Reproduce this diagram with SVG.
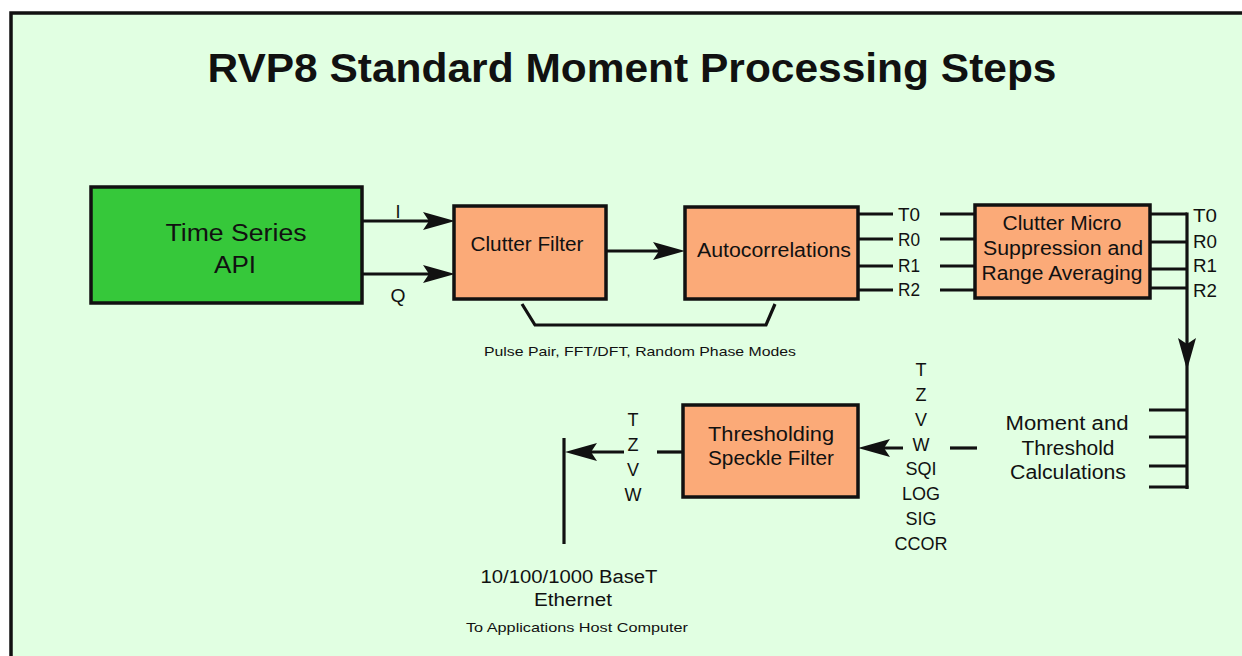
<svg xmlns="http://www.w3.org/2000/svg" width="1242" height="656" viewBox="0 0 1242 656">
<style>
  text { font-family: "Liberation Sans", Arial, Helvetica, sans-serif; fill: #111; }
  .t { font-size: 41px; font-weight: bold; }
  .m { font-size: 20px; }
  .b { font-size: 23px; }
  .s { font-size: 18px; }
  .xs { font-size: 13px; }
  .box { stroke: #111; stroke-width: 3.5; }
  .org { fill: #FBAA78; }
  .grn { fill: #36C83A; }
  .ln { stroke: #111; stroke-width: 3.2; fill: none; }
</style>
<defs>
  <marker id="ah" markerUnits="userSpaceOnUse" markerWidth="34" markerHeight="22" refX="24" refY="11" orient="auto">
    <path d="M0,2 L32,11 L0,20 L6,11 Z" fill="#111"/>
  </marker>
</defs>
<rect x="0" y="0" width="1242" height="656" fill="#fff"/>
<rect x="11" y="13" width="1260" height="670" fill="#E1FFE2" stroke="#111" stroke-width="3.5"/>

<text class="t" x="632" y="82" text-anchor="middle" textLength="849" lengthAdjust="spacingAndGlyphs">RVP8 Standard Moment Processing Steps</text>

<g id="connectors">
  <line class="ln" x1="362" y1="221" x2="447" y2="221" marker-end="url(#ah)"/>
  <line class="ln" x1="362" y1="274" x2="447" y2="274" marker-end="url(#ah)"/>
  <line class="ln" x1="606" y1="251" x2="677" y2="251" marker-end="url(#ah)"/>
  <path class="ln" d="M522,304 L535,325 L766,325 L775,304"/>
  <line class="ln" x1="858" y1="214" x2="893" y2="214"/>
  <line class="ln" x1="858" y1="239" x2="893" y2="239"/>
  <line class="ln" x1="858" y1="266" x2="893" y2="266"/>
  <line class="ln" x1="858" y1="290" x2="893" y2="290"/>
  <line class="ln" x1="940" y1="214" x2="975" y2="214"/>
  <line class="ln" x1="940" y1="239" x2="975" y2="239"/>
  <line class="ln" x1="940" y1="266" x2="975" y2="266"/>
  <line class="ln" x1="940" y1="290" x2="975" y2="290"/>
  <line class="ln" x1="1150" y1="214" x2="1187" y2="214"/>
  <line class="ln" x1="1150" y1="242" x2="1187" y2="242"/>
  <line class="ln" x1="1150" y1="269" x2="1187" y2="269"/>
  <line class="ln" x1="1150" y1="288" x2="1187" y2="288"/>
  <line class="ln" x1="1187" y1="212.5" x2="1187" y2="362" marker-end="url(#ah)"/>
  <line class="ln" x1="1187" y1="362" x2="1187" y2="489"/>
  <line class="ln" x1="1149" y1="410" x2="1187" y2="410"/>
  <line class="ln" x1="1149" y1="437" x2="1187" y2="437"/>
  <line class="ln" x1="1149" y1="466" x2="1187" y2="466"/>
  <line class="ln" x1="1149" y1="487" x2="1188.5" y2="487"/>
  <line class="ln" x1="950" y1="448" x2="977" y2="448"/>
  <line class="ln" x1="903" y1="448" x2="866" y2="448" marker-end="url(#ah)"/>
  <line class="ln" x1="683" y1="452" x2="657" y2="452"/>
  <line class="ln" x1="624" y1="452" x2="573" y2="452" marker-end="url(#ah)"/>
  <line class="ln" x1="564" y1="438" x2="564" y2="544"/>
</g>

<g id="time-series-api">
  <rect class="box grn" x="91" y="187" width="271" height="116"/>
  <text class="b" x="236" y="241" text-anchor="middle" textLength="141" lengthAdjust="spacingAndGlyphs">Time Series</text>
  <text class="b" x="235" y="273" text-anchor="middle" textLength="42" lengthAdjust="spacingAndGlyphs">API</text>
</g>
<text class="s" x="398" y="218" text-anchor="middle">I</text>
<text class="s" x="398" y="302" text-anchor="middle" textLength="15" lengthAdjust="spacingAndGlyphs">Q</text>

<g id="clutter-filter">
  <rect class="box org" x="454" y="206" width="152" height="93"/>
  <text class="m" x="527" y="251" text-anchor="middle" textLength="113" lengthAdjust="spacingAndGlyphs">Clutter Filter</text>
</g>

<g id="autocorrelations">
  <rect class="box org" x="685" y="207" width="173" height="92"/>
  <text class="m" x="774" y="257" text-anchor="middle" textLength="154" lengthAdjust="spacingAndGlyphs">Autocorrelations</text>
</g>
<text class="xs" x="640" y="356" text-anchor="middle" textLength="312" lengthAdjust="spacingAndGlyphs">Pulse Pair, FFT/DFT, Random Phase Modes</text>

<g id="ac-outputs">
  <text class="s" x="898" y="221" textLength="22" lengthAdjust="spacingAndGlyphs">T0</text>
  <text class="s" x="898" y="246" textLength="22" lengthAdjust="spacingAndGlyphs">R0</text>
  <text class="s" x="898" y="272" textLength="22" lengthAdjust="spacingAndGlyphs">R1</text>
  <text class="s" x="898" y="296" textLength="22" lengthAdjust="spacingAndGlyphs">R2</text>
</g>

<g id="clutter-micro">
  <rect class="box org" x="975" y="205" width="175" height="93"/>
  <text class="m" x="1062" y="230" text-anchor="middle" textLength="119" lengthAdjust="spacingAndGlyphs">Clutter Micro</text>
  <text class="m" x="1063" y="255" text-anchor="middle" textLength="160" lengthAdjust="spacingAndGlyphs">Suppression and</text>
  <text class="m" x="1062" y="280" text-anchor="middle" textLength="161" lengthAdjust="spacingAndGlyphs">Range Averaging</text>
</g>

<g id="cm-outputs">
  <text class="s" x="1193" y="222" textLength="24" lengthAdjust="spacingAndGlyphs">T0</text>
  <text class="s" x="1193" y="248" textLength="24" lengthAdjust="spacingAndGlyphs">R0</text>
  <text class="s" x="1193" y="272" textLength="24" lengthAdjust="spacingAndGlyphs">R1</text>
  <text class="s" x="1193" y="297" textLength="24" lengthAdjust="spacingAndGlyphs">R2</text>
</g>

<g id="moment-threshold">
  <text class="m" x="1067" y="430" text-anchor="middle" textLength="123" lengthAdjust="spacingAndGlyphs">Moment  and</text>
  <text class="m" x="1068" y="455" text-anchor="middle" textLength="93" lengthAdjust="spacingAndGlyphs">Threshold</text>
  <text class="m" x="1068" y="479" text-anchor="middle" textLength="116" lengthAdjust="spacingAndGlyphs">Calculations</text>
</g>

<g id="moment-outputs" text-anchor="middle">
  <text class="s" x="921" y="376">T</text>
  <text class="s" x="921" y="401">Z</text>
  <text class="s" x="921" y="426">V</text>
  <text class="s" x="921" y="451">W</text>
  <text class="s" x="921" y="475">SQI</text>
  <text class="s" x="921" y="500">LOG</text>
  <text class="s" x="921" y="525">SIG</text>
  <text class="s" x="921" y="550">CCOR</text>
</g>

<g id="thresholding">
  <rect class="box org" x="683" y="405" width="175" height="92"/>
  <text class="m" x="771" y="441" text-anchor="middle" textLength="126" lengthAdjust="spacingAndGlyphs">Thresholding</text>
  <text class="m" x="771" y="465" text-anchor="middle" textLength="126" lengthAdjust="spacingAndGlyphs">Speckle Filter</text>
</g>

<g id="final-outputs" text-anchor="middle">
  <text class="s" x="633" y="426">T</text>
  <text class="s" x="633" y="451">Z</text>
  <text class="s" x="633" y="476">V</text>
  <text class="s" x="633" y="501">W</text>
</g>

<g id="ethernet">
  <text class="s" x="569" y="583" text-anchor="middle" textLength="177" lengthAdjust="spacingAndGlyphs">10/100/1000 BaseT</text>
  <text class="s" x="573" y="606" text-anchor="middle" textLength="78" lengthAdjust="spacingAndGlyphs">Ethernet</text>
  <text class="xs" x="577" y="632" text-anchor="middle" textLength="222" lengthAdjust="spacingAndGlyphs">To Applications Host Computer</text>
</g>
</svg>
